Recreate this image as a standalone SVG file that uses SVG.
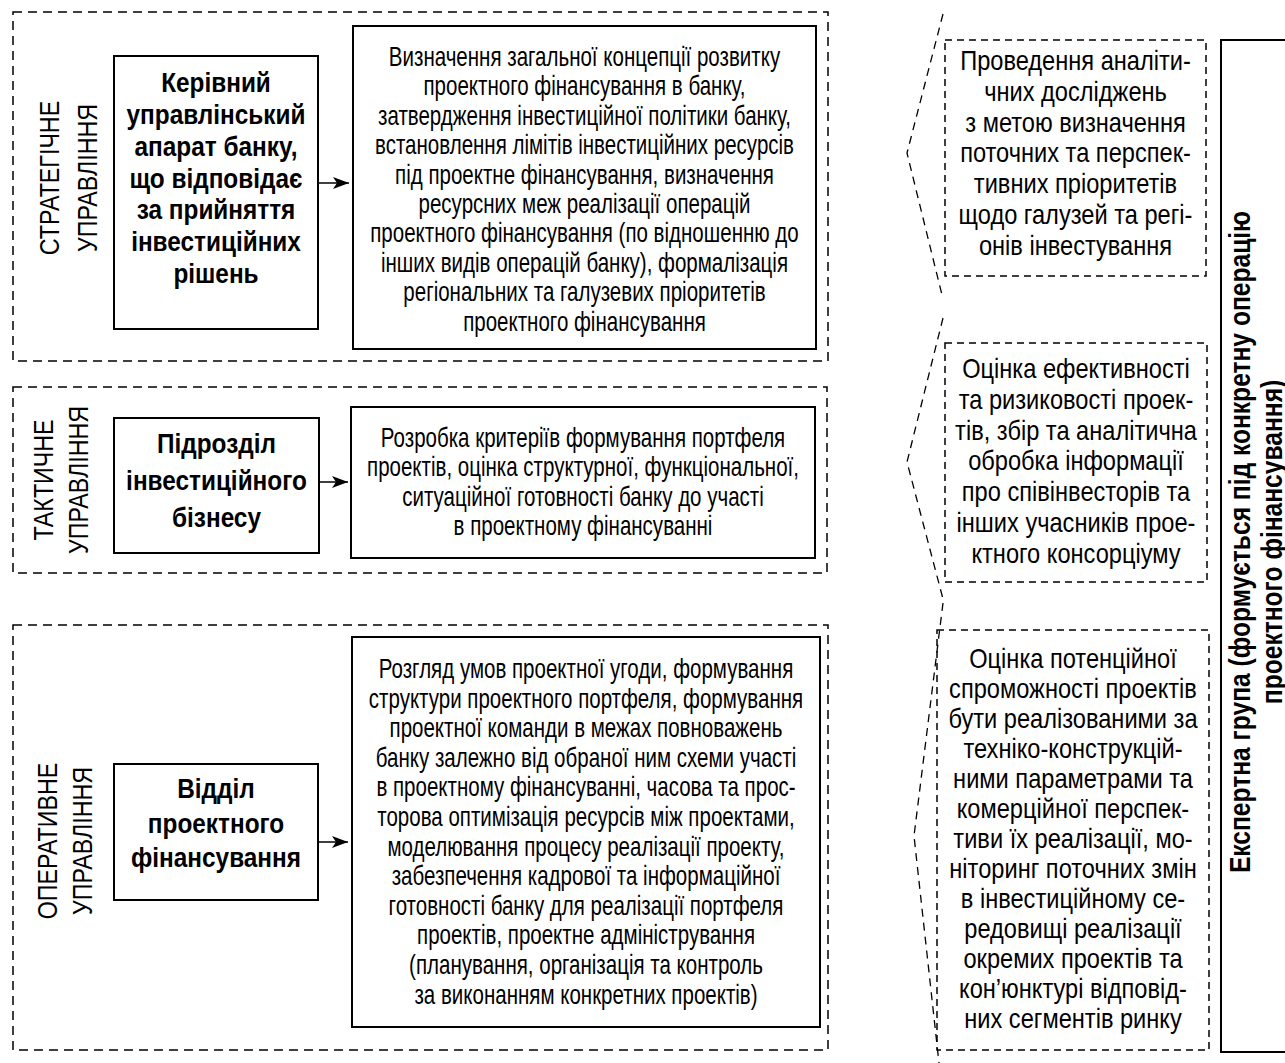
<svg xmlns="http://www.w3.org/2000/svg" width="1285" height="1063" viewBox="0 0 1285 1063">
<style>
.grp{fill:none;stroke:#000;stroke-width:1.5;stroke-dasharray:9 6}
.dbox{fill:none;stroke:#000;stroke-width:1.5;stroke-dasharray:7 5}
.brace{fill:none;stroke:#000;stroke-width:1.3;stroke-dasharray:8 6}
.box{fill:#fff;stroke:#000;stroke-width:2}
.t{font-family:"Liberation Sans",Arial,sans-serif;font-size:27px;text-anchor:middle;fill:#000}
.r{font-size:27px}
.b{font-weight:bold;font-size:28px}
.lab{font-size:28px}
.rb{font-weight:bold;font-size:30px}
.conn{stroke:#000;stroke-width:1.5;fill:none}
</style>
<defs>
<marker id="arr" markerUnits="userSpaceOnUse" markerWidth="18" markerHeight="14" refX="16" refY="6" orient="auto">
<path d="M0,0 L16,6 L0,12 L4,6 z" fill="#000"/>
</marker>
</defs>
<rect width="1285" height="1063" fill="#fff"/>

<g id="group-strategic">
<rect class="grp" x="13" y="12" width="815" height="349"/>
<text class="t lab" transform="translate(59,178) rotate(-90) scale(0.83,1)">СТРАТЕГІЧНЕ</text>
<text class="t lab" transform="translate(97,178) rotate(-90) scale(0.83,1)">УПРАВЛІННЯ</text>
</g>
<g id="group-tactical">
<rect class="grp" x="13" y="387" width="814" height="186"/>
<text class="t lab" transform="translate(53,480) rotate(-90) scale(0.83,1)">ТАКТИЧНЕ</text>
<text class="t lab" transform="translate(88,480) rotate(-90) scale(0.83,1)">УПРАВЛІННЯ</text>
</g>
<g id="group-operative">
<rect class="grp" x="13" y="625" width="815" height="425"/>
<text class="t lab" transform="translate(57,841) rotate(-90) scale(0.83,1)">ОПЕРАТИВНЕ</text>
<text class="t lab" transform="translate(92,841) rotate(-90) scale(0.83,1)">УПРАВЛІННЯ</text>
</g>

<g id="node-kerivnyi">
<rect class="box" x="114" y="56" width="204" height="273"/>
<g transform="translate(216,0) scale(0.87,1)">
<text class="t b" x="0" y="92">Керівний</text>
<text class="t b" x="0" y="124">управлінський</text>
<text class="t b" x="0" y="156">апарат банку,</text>
<text class="t b" x="0" y="188">що відповідає</text>
<text class="t b" x="0" y="219">за прийняття</text>
<text class="t b" x="0" y="251">інвестиційних</text>
<text class="t b" x="0" y="283">рішень</text>
</g>
</g>

<g id="node-strategic-tasks">
<rect class="box" x="353" y="26" width="463" height="323"/>
<g transform="translate(584.5,0) scale(0.76,1)">
<text class="t" x="0" y="66">Визначення загальної концепції розвитку</text>
<text class="t" x="0" y="95.4">проектного фінансування в банку,</text>
<text class="t" x="0" y="124.8">затвердження інвестиційної політики банку,</text>
<text class="t" x="0" y="154.2">встановлення лімітів інвестиційних ресурсів</text>
<text class="t" x="0" y="183.6">під проектне фінансування, визначення</text>
<text class="t" x="0" y="213">ресурсних меж реалізації операцій</text>
<text class="t" x="0" y="242.4">проектного фінансування (по відношенню до</text>
<text class="t" x="0" y="271.8">інших видів операцій банку), формалізація</text>
<text class="t" x="0" y="301.2">регіональних та галузевих пріоритетів</text>
<text class="t" x="0" y="330.6">проектного фінансування</text>
</g>
</g>

<g id="node-pidrozdil">
<rect class="box" x="114" y="418" width="205" height="135"/>
<g transform="translate(216.5,0) scale(0.87,1)">
<text class="t b" x="0" y="453">Підрозділ</text>
<text class="t b" x="0" y="490">інвестиційного</text>
<text class="t b" x="0" y="527">бізнесу</text>
</g>
</g>

<g id="node-tactical-tasks">
<rect class="box" x="351" y="407" width="464" height="151"/>
<g transform="translate(583,0) scale(0.76,1)">
<text class="t" x="0" y="447">Розробка критеріїв формування портфеля</text>
<text class="t" x="0" y="476.4">проектів, оцінка структурної, функціональної,</text>
<text class="t" x="0" y="505.8">ситуаційної готовності банку до участі</text>
<text class="t" x="0" y="535.2">в проектному фінансуванні</text>
</g>
</g>

<g id="node-viddil">
<rect class="box" x="114" y="764" width="204" height="136"/>
<g transform="translate(216,0) scale(0.87,1)">
<text class="t b" x="0" y="798">Відділ</text>
<text class="t b" x="0" y="833">проектного</text>
<text class="t b" x="0" y="867">фінансування</text>
</g>
</g>

<g id="node-operative-tasks">
<rect class="box" x="352" y="637" width="468" height="390"/>
<g transform="translate(586,0) scale(0.76,1)">
<text class="t" x="0" y="678">Розгляд умов проектної угоди, формування</text>
<text class="t" x="0" y="707.6">структури проектного портфеля, формування</text>
<text class="t" x="0" y="737.2">проектної команди в межах повноважень</text>
<text class="t" x="0" y="766.8">банку залежно від обраної ним схеми участі</text>
<text class="t" x="0" y="796.4">в проектному фінансуванні, часова та прос-</text>
<text class="t" x="0" y="826">торова оптимізація ресурсів між проектами,</text>
<text class="t" x="0" y="855.6">моделювання процесу реалізації проекту,</text>
<text class="t" x="0" y="885.2">забезпечення кадрової та інформаційної</text>
<text class="t" x="0" y="914.8">готовності банку для реалізації портфеля</text>
<text class="t" x="0" y="944.4">проектів, проектне адміністрування</text>
<text class="t" x="0" y="974">(планування, організація та контроль</text>
<text class="t" x="0" y="1003.6">за виконанням конкретних проектів)</text>
</g>
</g>

<g id="node-analytics">
<rect class="dbox" x="945" y="40" width="261" height="236"/>
<g transform="translate(1075.5,0) scale(0.875,1)">
<text class="t r" x="0" y="70">Проведення аналіти-</text>
<text class="t r" x="0" y="100.8">чних досліджень</text>
<text class="t r" x="0" y="131.6">з метою визначення</text>
<text class="t r" x="0" y="162.4">поточних та перспек-</text>
<text class="t r" x="0" y="193.2">тивних пріоритетів</text>
<text class="t r" x="0" y="224">щодо галузей та регі-</text>
<text class="t r" x="0" y="254.8">онів інвестування</text>
</g>
</g>

<g id="node-efficiency">
<rect class="dbox" x="945" y="343" width="262" height="239"/>
<g transform="translate(1076,0) scale(0.875,1)">
<text class="t r" x="0" y="378">Оцінка ефективності</text>
<text class="t r" x="0" y="408.8">та ризиковості проек-</text>
<text class="t r" x="0" y="439.6">тів, збір та аналітична</text>
<text class="t r" x="0" y="470.4">обробка інформації</text>
<text class="t r" x="0" y="501.2">про співінвесторів та</text>
<text class="t r" x="0" y="532">інших учасників прое-</text>
<text class="t r" x="0" y="562.8">ктного консорціуму</text>
</g>
</g>

<g id="node-potential">
<rect class="dbox" x="937" y="630" width="272" height="420"/>
<g transform="translate(1073,0) scale(0.875,1)">
<text class="t r" x="0" y="668">Оцінка потенційної</text>
<text class="t r" x="0" y="698">спроможності проектів</text>
<text class="t r" x="0" y="728">бути реалізованими за</text>
<text class="t r" x="0" y="758">техніко-конструкцій-</text>
<text class="t r" x="0" y="788">ними параметрами та</text>
<text class="t r" x="0" y="818">комерційної перспек-</text>
<text class="t r" x="0" y="848">тиви їх реалізації, мо-</text>
<text class="t r" x="0" y="878">ніторинг поточних змін</text>
<text class="t r" x="0" y="908">в інвестиційному се-</text>
<text class="t r" x="0" y="938">редовищі реалізації</text>
<text class="t r" x="0" y="968">окремих проектів та</text>
<text class="t r" x="0" y="998">кон’юнктурі відповід-</text>
<text class="t r" x="0" y="1028">них сегментів ринку</text>
</g>
</g>

<g id="node-expert-group">
<rect class="box" x="1221" y="40" width="90" height="1012"/>
<text class="t rb" transform="translate(1250,542) rotate(-90) scale(0.82,1)">Експертна група (формується під конкретну операцію</text>
<text class="t rb" transform="translate(1282,542) rotate(-90) scale(0.82,1)">проектного фінансування)</text>
</g>

<g id="connectors">
<line class="conn" x1="319" y1="183" x2="349" y2="183" marker-end="url(#arr)"/>
<line class="conn" x1="319" y1="482" x2="348" y2="482" marker-end="url(#arr)"/>
<line class="conn" x1="318" y1="842" x2="348" y2="842" marker-end="url(#arr)"/>
<polyline class="brace" points="943,14 907,153 942,295"/>
<polyline class="brace" points="943,318 907,462 943,599"/>
<polyline class="brace" points="943,603 914,836 939,1063"/>
</g>
</svg>
